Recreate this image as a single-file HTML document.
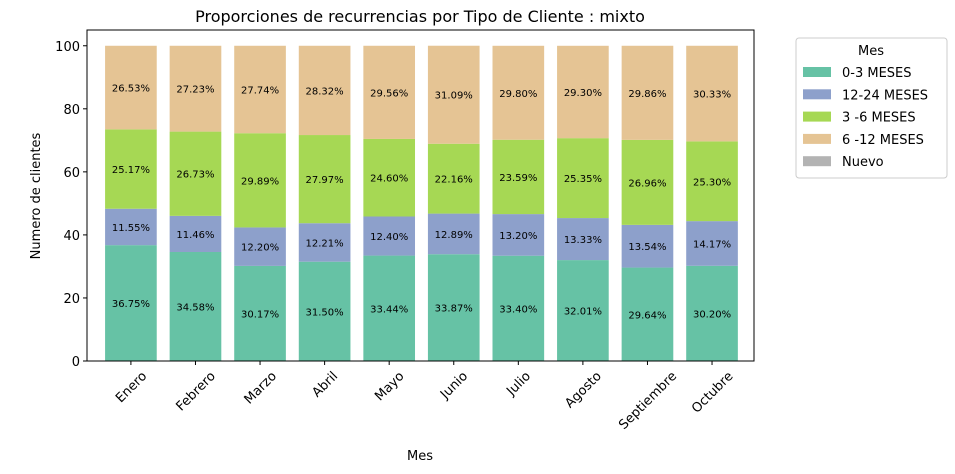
<!DOCTYPE html>
<html><head><meta charset="utf-8"><style>
body{margin:0;background:#fff;font-family:"Liberation Sans","DejaVu Sans",sans-serif;overflow:hidden}
</style></head><body>
<svg id="chart" width="955" height="474" xmlns="http://www.w3.org/2000/svg" font-family="DejaVu Sans, Liberation Sans, sans-serif" style="display:block">
<text x="420" y="22" text-anchor="middle" font-size="16">Proporciones de recurrencias por Tipo de Cliente : mixto</text>
<g id="plot"></g>
<text x="420" y="460" text-anchor="middle" font-size="13">Mes</text>
<text transform="translate(40,196) rotate(-90)" text-anchor="middle" font-size="13">Numero de clientes</text>
<g>
<rect x="796" y="38" width="151" height="140" rx="3" fill="#fff" stroke="#ccc"/>
<text x="871" y="55" text-anchor="middle" font-size="13">Mes</text>
<g id="legend-items"></g>
</g>
</svg>
<script>
const categories=["Enero","Febrero","Marzo","Abril","Mayo","Junio","Julio","Agosto","Septiembre","Octubre"];
const seriesNames=["0-3 MESES","12-24 MESES","3 -6 MESES","6 -12 MESES","Nuevo"];
const s0_3=[36.75,34.58,30.17,31.50,33.44,33.87,33.40,32.01,29.64,30.20];
const s12_24=[11.55,11.46,12.20,12.21,12.40,12.89,13.20,13.33,13.54,14.17];
const s3_6=[25.17,26.73,29.89,27.97,24.60,22.16,23.59,25.35,26.96,25.30];
const s6_12=[26.53,27.23,27.74,28.32,29.56,31.09,29.80,29.30,29.86,30.33];
const yTicks=[0,20,40,60,80,100];
const colors=["#66c2a5","#8da0cb","#a6d854","#e5c494","#b3b3b3"];
const NS="http://www.w3.org/2000/svg";
const L=87,R=754,T=30,B=361;
const xMin=-0.68,xMax=9.65,yMax=105;
const xs=v=>L+(v-xMin)/(xMax-xMin)*(R-L);
const ys=v=>B-v/yMax*(B-T);
const plot=document.getElementById('plot');
function mk(t,a){const e=document.createElementNS(NS,t);for(const k in a)e.setAttribute(k,a[k]);return e;}
const series=[s0_3,s12_24,s3_6,s6_12];
const bw=(xs(0.4)-xs(-0.4));
categories.forEach((c,i)=>{
  let base=0;
  series.forEach((s,j)=>{
    const v=s[i];
    const r=mk('rect',{x:xs(i)-bw/2,y:ys(base+v),width:bw,height:ys(base)-ys(base+v),fill:colors[j]});
    
    
    plot.appendChild(r);
    const t=mk('text',{x:xs(i),y:ys(base+v/2)+4,'text-anchor':'middle','font-size':'10'});
    t.textContent=v.toFixed(2)+'%';
    
    
    plot.appendChild(t);
    base+=v;
  });
  plot.appendChild(mk('line',{x1:xs(i),x2:xs(i),y1:B,y2:B+4,stroke:'#000'}));
  const xl=mk('text',{'text-anchor':'middle','font-size':'13'});
  xl.textContent=c;
  
  
  plot.appendChild(xl);
  const len=xl.getComputedTextLength();
  const half=(len+13)*0.7071/2;
  xl.setAttribute('transform',`translate(${xs(i)},${B+8+half}) rotate(-45) translate(0,4.5)`);
});
yTicks.forEach(v=>{
  plot.appendChild(mk('line',{x1:L-4,x2:L,y1:ys(v),y2:ys(v),stroke:'#000'}));
  const t=mk('text',{x:L-7,y:ys(v)+5,'text-anchor':'end','font-size':'13'});
  t.textContent=v;
  
  
  plot.appendChild(t);
});
const fr=mk('rect',{x:L,y:T,width:R-L,height:B-T,fill:'none',stroke:'#000'});


plot.appendChild(fr);
const lg=document.getElementById('legend-items');
seriesNames.forEach((n,j)=>{
  const y=73+j*22.3;
  lg.appendChild(mk('rect',{x:803,y:y-6,width:28,height:10,fill:colors[j]}));
  const t=mk('text',{x:842,y:y+4,'font-size':'13'});
  t.textContent=n;
  
  
  lg.appendChild(t);
});
</script>
</body></html>
